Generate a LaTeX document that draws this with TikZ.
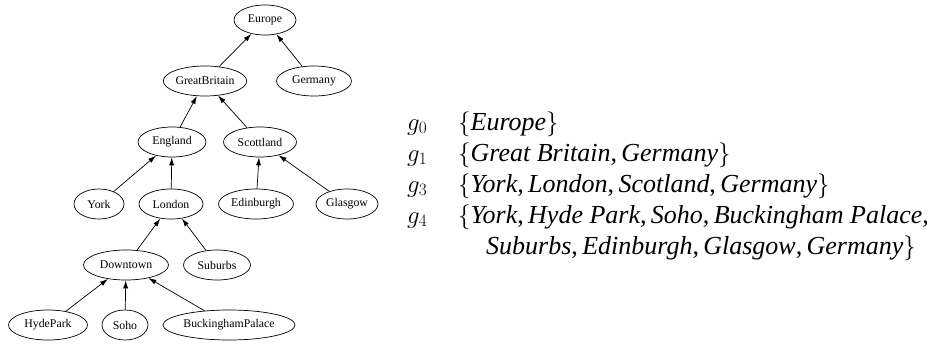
\documentclass[tikz,border=0pt]{standalone}
\usepackage{fontspec}
\setmainfont{Liberation Serif}
\usetikzlibrary{shapes.geometric, arrows.meta}

\tikzset{
  place/.style={ellipse, draw, line width=0.7pt, inner sep=0pt, minimum height=30pt,
    font=\fontsize{11.8}{13}\selectfont},
  up/.style={-{Latex[length=8pt,width=5pt]}, line width=0.7pt},
  setline/.style={anchor=base west, inner sep=0pt, font=\fontsize{26}{30}\selectfont}
}

\begin{document}
\begin{tikzpicture}[x=1pt, y=-1pt]
  \useasboundingbox (0,0) rectangle (939,343);

  % Location hierarchy
  \node[place, minimum width=62pt]  (europe)    at (265,20)  {Europe};
  \node[place, minimum width=72pt]  (britain)   at (205,81)  {GreatBritain};
  \node[place, minimum width=75pt]  (germany)   at (314,81)  {Germany};
  \node[place, minimum width=68pt]  (england)   at (172,142) {England};
  \node[place, minimum width=73pt]  (scotland)  at (260,142) {Scottland};
  \node[place, minimum width=50pt]  (york)      at (99,204)  {York};
  \node[place, minimum width=64pt]  (london)    at (171,204) {London};
  \node[place, minimum width=75pt]  (edinburgh) at (256,204) {Edinburgh};
  \node[place, minimum width=62pt]  (glasgow)   at (347,204) {Glasgow};
  \node[place, minimum width=85pt]  (downtown)  at (126,265) {Downtown};
  \node[place, minimum width=67pt]  (suburbs)   at (217,265) {Suburbs};
  \node[place, minimum width=79pt]  (hydepark)  at (48,325)  {HydePark};
  \node[place, minimum width=46pt]  (soho)      at (125,325) {Soho};
  \node[place, minimum width=132pt] (palace)    at (229,325) {BuckinghamPalace};

  % Edges point to the parent
  \foreach \child/\parent in {britain/europe, germany/europe, england/britain,
      scotland/britain, york/england, london/england, edinburgh/scotland,
      glasgow/scotland, downtown/london, suburbs/london, hydepark/downtown,
      soho/downtown, palace/downtown}
    \draw[up] (\child) -- (\parent);

  % Sets of granules
  \node[setline] (g0) at (407,130) {$g_0$};
  \node[setline] (s0) at (458,130) {$\{$\textit{Europe}$\}$};
  \node[setline] (g1) at (407,161) {$g_1$};
  \node[setline] (s1) at (458,161) {$\{$\textit{Great Britain},\,\textit{Germany}$\}$};
  \node[setline] (g3) at (407,192) {$g_3$};
  \node[setline] (s3) at (458,192) {$\{$\textit{York},\,\textit{London},\,\textit{Scotland},\,\textit{Germany}$\}$};
  \node[setline] (g4) at (407,223) {$g_4$};
  \node[setline] (s4) at (458,223) {$\{$\textit{York},\,\textit{Hyde Park},\,\textit{Soho},\,\textit{Buckingham Palace},};
  \node[setline] (s5) at (486,254) {\textit{Suburbs},\,\textit{Edinburgh},\,\textit{Glasgow},\,\textit{Germany}$\}$};
\end{tikzpicture}
\end{document}
